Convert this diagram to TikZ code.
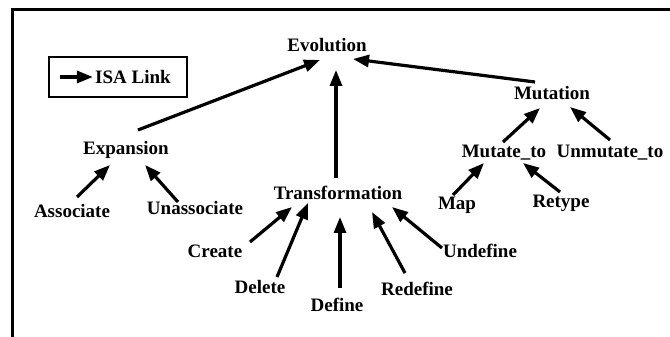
\documentclass[tikz,border=0pt]{standalone}
\usepackage{fontspec}
\setmainfont{Liberation Serif}
\usepackage{tikz}
\usetikzlibrary{arrows.meta, positioning, calc}
\tikzstyle{concept} = [font=\bfseries\fontsize{9.5}{11}\selectfont, inner sep=1pt]
\tikzstyle{isa} = [line width=1.6pt, -{Triangle[length=8pt, width=6pt]}]

\begin{document}
\begin{tikzpicture}[x=0.5pt, y=0.5pt]
    \useasboundingbox (0,0) rectangle (670,337);
    % frame (top and left only)
    \draw[line width=1.5pt] (670,327) -- (12,327) -- (12,0);
    
    % legend
    \node[draw, line width=1pt, minimum width=69pt, minimum height=20pt] (legend) at (118,260) {};
    \node[concept] (isalabel) at (133,260) {ISA Link};
    \coordinate (isatail) at (60,260);
    \draw[isa] (isatail) -- (isalabel.west);
    
    % concepts
    \node[concept] (evolution) at (327,292) {Evolution};
    \node[concept] (expansion) at (126,187) {Expansion};
    \node[concept] (transformation) at (338,144) {Transformation};
    \node[concept] (mutation) at (552,244) {Mutation};
    \node[concept] (mutateto) at (504,184) {Mutate\_to};
    \node[concept] (unmutateto) at (610,184) {Unmutate\_to};
    \node[concept] (associate) at (72,126) {Associate};
    \node[concept] (unassociate) at (195,129) {Unassociate};
    \node[concept] (map) at (457,132) {Map};
    \node[concept] (retype) at (561,134) {Retype};
    \node[concept] (create) at (215,86) {Create};
    \node[concept] (delete) at (260,50) {Delete};
    \node[concept] (define) at (337,32) {Define};
    \node[concept] (redefine) at (417,48) {Redefine};
    \node[concept] (undefine) at (480,86) {Undefine};
    
    % ISA links to evolution
    \draw[isa] ($(expansion)+(12,20)$) -- ($(evolution)+(-7,-15)$);
    \draw[isa] ($(transformation)+(-2,15)$) -- ($(evolution)+(9,-25)$);
    \draw[isa] ($(mutation)+(-17,11)$) -- ($(evolution)+(26,-14)$);
    
    % ISA links to mutation
    \draw[isa] ($(mutateto)+(-1,11)$) -- ($(mutation)+(-12,-15)$);
    \draw[isa] ($(unmutateto)+(0,13)$) -- ($(mutation)+(18,-14)$);
    \draw[isa] ($(map)+(-4,10)$) -- ($(mutateto)+(-20,-10)$);
    \draw[isa] ($(retype)+(-1,11)$) -- ($(mutateto)+(19,-10)$);
    
    % ISA links to expansion
    \draw[isa] ($(associate)+(5,14)$) -- ($(expansion)+(-16,-15)$);
    \draw[isa] ($(unassociate)+(-17,6)$) -- ($(expansion)+(19,-15)$);
    
    % ISA links to transformation
    \draw[isa] ($(create)+(35,9)$) -- ($(transformation)+(-46,-14)$);
    \draw[isa] ($(delete)+(17,10)$) -- ($(transformation)+(-30,-10)$);
    \draw[isa] ($(define)+(3,17)$) -- ($(transformation)+(2,-24)$);
    \draw[isa] ($(redefine)+(-12,16)$) -- ($(transformation)+(34,-19)$);
    \draw[isa] ($(undefine)+(-38,3)$) -- ($(transformation)+(54,-14)$);
\end{tikzpicture}
\end{document}
